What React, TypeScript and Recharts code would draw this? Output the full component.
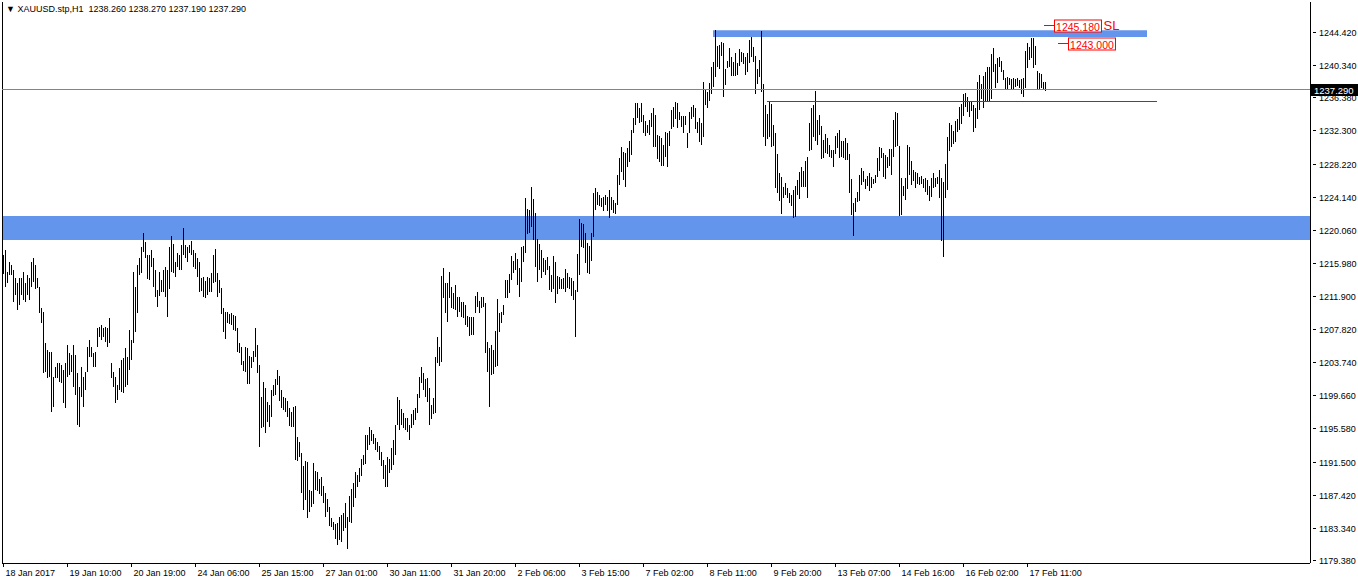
import React from "react";
import { ComposedChart, Bar, XAxis, YAxis, ReferenceLine, ReferenceArea } from "recharts";

const highs: number[] = [
  1217.0,1217.6,1214.9,1216.1,1215.7,1215.1,1214.1,1213.5,1214.1,1214.1,
  1214.9,1213.5,1214.5,1214.1,1216.1,1216.6,1215.7,1214.1,1213.0,1210.4,
  1209.9,1206.1,1205.3,1205.0,1205.0,1201.9,1203.2,1203.7,1203.7,1203.4,
  1202.8,1203.7,1205.9,1204.9,1204.6,1205.9,1204.6,1202.4,1200.7,1203.2,
  1201.9,1202.5,1205.6,1206.5,1205.6,1204.9,1205.0,1208.0,1208.1,1208.3,
  1208.0,1208.1,1208.0,1209.2,1203.7,1202.5,1201.9,1200.9,1203.0,1204.0,
  1204.3,1205.5,1204.4,1207.7,1206.5,1214.9,1213.0,1215.7,1216.6,1217.9,
  1219.7,1218.6,1217.0,1217.0,1217.6,1216.6,1215.1,1212.7,1214.9,1213.9,
  1215.1,1215.5,1215.1,1217.9,1219.3,1218.3,1216.1,1217.2,1217.0,1218.2,
  1220.3,1218.2,1217.9,1218.2,1218.7,1217.6,1217.2,1216.6,1216.1,1214.1,
  1214.2,1213.8,1214.2,1214.1,1214.7,1217.0,1217.7,1214.7,1213.9,1212.9,
  1210.4,1209.9,1209.9,1209.7,1209.8,1209.6,1209.4,1208.0,1206.1,1205.6,
  1203.9,1205.6,1205.5,1204.5,1204.4,1205.1,1208.0,1205.9,1203.4,1199.5,
  1201.3,1200.6,1198.9,1198.5,1200.3,1200.9,1201.7,1202.8,1202.0,1200.3,
  1199.5,1199.3,1199.0,1198.1,1197.6,1198.2,1198.4,1194.5,1193.9,1192.6,
  1191.0,1191.6,1191.5,1188.0,1187.9,1191.3,1190.4,1190.2,1189.3,1189.6,
  1188.5,1187.6,1186.9,1185.9,1184.6,1184.1,1183.8,1183.9,1184.7,1184.9,
  1185.2,1186.4,1184.7,1187.3,1188.1,1188.9,1190.2,1189.9,1190.7,1191.8,
  1192.3,1194.8,1194.8,1195.8,1195.4,1194.9,1194.4,1193.9,1193.4,1192.7,
  1191.7,1191.1,1192.1,1191.8,1193.2,1194.2,1196.0,1199.5,1199.1,1198.0,
  1197.5,1196.9,1196.9,1196.0,1197.4,1197.9,1198.1,1199.8,1201.9,1203.2,
  1202.4,1201.7,1201.8,1200.6,1198.5,1199.3,1204.4,1206.9,1205.6,1214.4,
  1215.4,1213.5,1213.5,1214.9,1213.0,1212.3,1213.3,1211.8,1211.8,1211.2,
  1211.2,1210.8,1209.4,1209.3,1209.3,1209.3,1211.9,1212.4,1211.3,1211.8,
  1211.8,1211.0,1206.2,1205.5,1205.9,1205.3,1207.6,1211.5,1209.8,1209.9,
  1210.8,1213.9,1213.9,1214.6,1216.8,1216.2,1217.2,1216.5,1215.4,1217.9,
  1218.1,1224.0,1222.6,1222.5,1225.3,1223.9,1222.1,1218.9,1218.3,1217.6,
  1216.6,1216.3,1216.7,1215.6,1214.5,1216.8,1216.1,1214.4,1214.2,1214.0,
  1214.1,1215.2,1214.7,1214.2,1214.1,1213.8,1212.7,1217.1,1221.4,1220.9,
  1220.8,1219.7,1218.4,1218.1,1219.7,1224.6,1225.2,1224.7,1224.3,1224.0,
  1224.1,1224.3,1224.1,1225.0,1224.1,1223.7,1223.4,1226.8,1228.9,1230.3,
  1229.6,1229.5,1230.1,1231.0,1232.4,1233.8,1235.7,1235.7,1235.1,1235.7,
  1234.2,1233.5,1233.0,1233.6,1234.4,1235.1,1234.2,1231.7,1231.6,1231.4,
  1230.5,1232.1,1232.0,1232.2,1234.8,1235.2,1235.8,1235.7,1234.6,1234.1,
  1234.1,1234.1,1232.0,1234.6,1235.2,1235.4,1235.0,1233.3,1233.8,1233.2,
  1238.3,1237.4,1237.0,1238.1,1240.1,1240.7,1244.7,1242.7,1242.8,1243.2,
  1243.1,1239.9,1240.8,1242.4,1241.3,1240.7,1241.8,1240.6,1242.3,1242.0,
  1241.8,1241.3,1241.8,1243.4,1243.8,1242.6,1241.5,1239.9,1241.0,1244.5,
  1238.0,1235.4,1234.3,1235.8,1235.6,1233.0,1232.0,1229.4,1227.0,1226.6,
  1225.3,1225.8,1225.2,1224.6,1224.3,1225.0,1225.4,1226.2,1227.2,1227.8,
  1227.3,1228.5,1229.0,1233.2,1235.0,1235.4,1237.2,1233.6,1234.2,1232.8,
  1231.1,1231.9,1231.4,1230.5,1229.9,1229.9,1231.6,1232.0,1232.4,1231.0,
  1231.0,1231.4,1230.8,1229.4,1226.3,1223.4,1224.0,1224.7,1226.8,1227.7,
  1227.3,1226.3,1226.7,1227.0,1226.6,1226.3,1226.8,1228.9,1230.3,1230.1,
  1229.5,1229.3,1229.0,1230.0,1230.0,1233.6,1234.6,1234.4,1230.4,1226.4,
  1225.5,1226.4,1230.5,1230.3,1228.5,1227.4,1227.2,1227.0,1226.6,1226.7,
  1226.3,1226.4,1226.2,1225.5,1226.4,1227.0,1226.4,1226.6,1227.4,1226.4,
  1225.9,1228.2,1231.5,1233.2,1233.0,1232.2,1233.5,1233.7,1235.2,1235.6,
  1236.8,1236.9,1236.4,1235.8,1235.9,1235.4,1235.1,1238.3,1239.1,1238.0,
  1239.0,1239.5,1240.1,1240.1,1241.7,1242.4,1240.5,1241.2,1241.3,1240.8,
  1239.7,1238.8,1238.9,1238.8,1238.6,1238.8,1238.6,1238.8,1238.5,1238.6,
  1238.8,1242.1,1243.1,1242.6,1243.7,1243.7,1242.7,1239.6,1239.4,1239.2,
  1238.3,1238.27,
];

const lows: number[] = [
  1214.7,1213.0,1213.5,1214.5,1214.5,1211.2,1212.0,1210.2,1210.8,1212.0,
  1211.4,1211.2,1212.0,1211.4,1213.0,1213.6,1212.7,1212.9,1209.8,1208.6,
  1202.4,1202.5,1201.8,1201.9,1197.6,1198.2,1201.8,1201.9,1201.3,1201.2,
  1198.7,1198.2,1201.9,1202.2,1202.5,1200.7,1199.7,1196.0,1195.8,1199.5,
  1198.2,1200.3,1202.5,1204.4,1204.4,1203.2,1203.2,1205.6,1206.9,1206.5,
  1206.9,1206.2,1205.6,1206.1,1201.9,1200.7,1198.7,1199.1,1200.3,1200.0,
  1200.0,1200.7,1200.9,1202.8,1204.0,1206.1,1207.4,1209.8,1214.5,1214.7,
  1217.3,1216.6,1214.1,1213.9,1215.5,1213.0,1211.8,1210.6,1212.0,1212.4,
  1212.4,1211.8,1209.3,1212.7,1214.9,1214.7,1214.2,1215.5,1215.1,1215.1,
  1217.0,1216.6,1216.1,1217.2,1217.0,1215.5,1215.2,1214.2,1212.4,1212.5,
  1211.7,1211.7,1212.0,1212.4,1212.4,1213.5,1213.6,1211.7,1212.3,1209.7,
  1207.4,1206.6,1208.6,1208.5,1208.3,1207.7,1207.6,1205.1,1204.9,1203.4,
  1202.7,1202.5,1201.1,1201.1,1203.0,1203.8,1204.4,1202.5,1193.3,1195.7,
  1195.8,1195.0,1196.4,1195.8,1197.0,1199.5,1199.7,1200.9,1198.9,1198.1,
  1197.9,1197.6,1197.0,1195.9,1195.8,1195.7,1191.7,1191.5,1192.0,1187.7,
  1185.6,1186.8,1184.6,1185.3,1185.9,1186.2,1188.1,1187.8,1187.4,1187.2,
  1186.4,1184.7,1185.3,1183.5,1183.5,1183.1,1181.9,1181.2,1181.9,1181.6,
  1183.0,1183.3,1180.8,1184.1,1183.9,1186.0,1187.0,1188.4,1189.0,1189.7,
  1191.1,1191.2,1192.9,1193.6,1194.1,1193.7,1192.9,1192.7,1191.7,1191.0,
  1189.3,1188.4,1188.4,1190.1,1190.5,1191.1,1192.3,1196.0,1195.4,1196.0,
  1195.7,1195.4,1195.2,1194.2,1195.7,1196.0,1196.6,1197.4,1199.3,1201.2,
  1200.3,1199.5,1198.9,1196.0,1196.8,1197.3,1197.5,1203.7,1203.2,1203.8,
  1211.7,1209.8,1208.7,1211.7,1210.4,1210.3,1210.2,1209.3,1209.9,1209.3,
  1209.2,1208.3,1208.1,1206.9,1207.1,1207.1,1209.8,1210.6,1209.8,1210.4,
  1210.6,1204.9,1202.5,1198.2,1202.2,1202.4,1203.2,1203.3,1207.5,1208.5,
  1209.6,1211.7,1211.7,1212.3,1213.9,1214.7,1215.1,1213.3,1211.8,1213.6,
  1216.1,1217.2,1219.5,1219.7,1220.4,1218.9,1215.4,1213.6,1215.1,1214.1,
  1214.9,1214.5,1215.1,1212.7,1212.4,1212.7,1211.0,1212.2,1212.7,1212.8,
  1212.7,1212.4,1212.8,1212.7,1211.9,1211.4,1206.9,1212.4,1214.5,1217.9,
  1217.8,1216.0,1214.7,1214.7,1216.3,1219.2,1222.5,1223.1,1222.9,1222.9,
  1222.4,1223.1,1222.4,1221.6,1222.5,1222.1,1222.1,1223.1,1225.6,1227.2,
  1226.1,1225.3,1227.7,1228.4,1229.3,1232.0,1233.0,1233.9,1233.2,1233.3,
  1232.0,1231.7,1232.0,1231.7,1232.7,1230.3,1230.3,1228.7,1228.4,1228.0,
  1227.9,1229.0,1227.8,1230.4,1232.4,1232.7,1233.7,1232.6,1233.6,1232.7,
  1232.0,1233.0,1230.1,1232.0,1233.7,1233.9,1232.4,1232.0,1230.9,1230.5,
  1231.5,1235.4,1235.0,1235.9,1236.8,1237.6,1238.9,1240.1,1239.9,1241.5,
  1236.5,1237.9,1239.9,1240.1,1239.0,1239.0,1239.0,1239.1,1240.2,1240.8,
  1240.4,1239.1,1239.5,1240.6,1241.3,1240.8,1236.8,1238.1,1238.9,1237.0,
  1231.5,1230.4,1231.2,1231.5,1230.3,1230.4,1225.2,1224.6,1223.6,1222.1,
  1223.9,1224.3,1224.0,1223.4,1223.0,1221.6,1221.6,1224.3,1223.9,1225.3,
  1225.3,1225.3,1224.0,1229.8,1229.8,1231.5,1231.0,1230.5,1231.7,1228.7,
  1228.9,1229.5,1229.4,1229.0,1228.9,1227.8,1229.4,1230.1,1229.0,1229.0,
  1228.9,1228.7,1228.7,1224.6,1221.9,1219.3,1222.3,1223.5,1223.6,1225.6,
  1226.0,1225.1,1225.5,1224.8,1225.2,1225.7,1225.8,1226.6,1227.4,1228.9,
  1226.6,1226.3,1227.7,1227.9,1226.8,1229.0,1230.3,1230.3,1221.8,1221.9,
  1224.3,1223.7,1225.1,1226.8,1225.6,1226.0,1225.2,1225.6,1225.6,1225.7,
  1225.2,1224.7,1224.3,1223.6,1224.1,1225.2,1225.3,1225.7,1224.0,1218.6,
  1216.7,1224.0,1225.0,1229.8,1230.3,1230.6,1230.9,1232.1,1232.4,1233.1,
  1234.1,1235.2,1234.6,1234.0,1234.7,1232.1,1232.6,1233.7,1234.8,1236.2,
  1235.1,1235.8,1235.8,1235.8,1236.2,1239.4,1237.6,1238.1,1240.1,1239.5,
  1238.5,1237.5,1237.4,1237.9,1237.4,1237.5,1237.6,1237.8,1237.5,1236.7,
  1236.5,1237.5,1240.0,1241.0,1241.2,1240.0,1240.4,1237.2,1237.3,1237.5,
  1237.3,1237.19,
];

const timeLabels: string[] = [
  "18 Jan 2017","19 Jan 10:00","20 Jan 19:00","24 Jan 06:00","25 Jan 15:00",
  "27 Jan 01:00","30 Jan 11:00","31 Jan 20:00","2 Feb 06:00","3 Feb 15:00",
  "7 Feb 02:00","8 Feb 11:00","9 Feb 20:00","13 Feb 07:00","14 Feb 16:00",
  "16 Feb 02:00","17 Feb 11:00",
];
const timeTickIdx: number[] = timeLabels.map((_, k) => k * 32);

const priceTicks: number[] = [
  1244.42,1240.34,1236.38,1232.3,1228.22,1224.14,1220.06,1215.98,1211.9,
  1207.82,1203.74,1199.66,1195.58,1191.5,1187.42,1183.34,1179.38,
];

const title = "\u25BC XAUUSD.stp,H1  1238.260 1238.270 1237.190 1237.290";
const lastPrice = 1237.29;
const slPrice = 1245.18;
const tpPrice = 1243.0;
const supportZone: [number, number] = [1218.8, 1221.75];
const topZone = { x1: 354.75, x2: 571.75, y1: 1243.8, y2: 1244.65 };
const neckLine = { x1: 381.75, x2: 576.75, y: 1235.92 };

const data = highs.map((h, i) => ({ i, range: [lows[i], h] as [number, number] }));

const FONT = "'Liberation Sans', Arial, sans-serif";

const Stick = (props: any) => {
  const { x, y, width, height } = props;
  if (x == null || y == null || isNaN(x) || isNaN(y)) return null;
  const cx = Math.floor(x + width / 2);
  const top = Math.round(Math.min(y, y + height));
  const h = Math.max(1, Math.round(Math.abs(height)));
  return <rect x={cx} y={top} width={1} height={h} fill="#000" shapeRendering="crispEdges" />;
};

const TimeTick = (props: any) => {
  const { x, y, payload } = props;
  const k = timeTickIdx.indexOf(payload.value);
  const xx = Math.floor(x) + 0.5;
  return (
    <g>
      <line x1={xx} x2={xx} y1={y - 4} y2={y} stroke="#000" shapeRendering="crispEdges" />
      <text x={xx + 2} y={y + 9} fontSize={9} fontFamily={FONT} fill="#000" textAnchor="start">
        {k >= 0 ? timeLabels[k] : ""}
      </text>
    </g>
  );
};

const PriceTick = (props: any) => {
  const { x, y, payload } = props;
  const yy = Math.round(y) + 0.5;
  return (
    <g>
      <line x1={x - 3} x2={x} y1={yy} y2={yy} stroke="#000" shapeRendering="crispEdges" />
      <text x={x + 3} y={yy + 3.5} fontSize={9} fontFamily={FONT} fill="#000" textAnchor="start">
        {Number(payload.value).toFixed(3)}
      </text>
    </g>
  );
};

const LastTag = (props: any) => {
  const vb = props.viewBox || {};
  const x = (vb.x || 0) + (vb.width || 0) + 1;
  const y = Math.round(vb.y || 0);
  return (
    <g>
      <rect x={x} y={y - 6} width={48} height={12} fill="#000" />
      <text x={x + 3} y={y + 4} fontSize={9.5} fontFamily={FONT} fill="#fff">
        {lastPrice.toFixed(3)}
      </text>
    </g>
  );
};

const makeBoxTag = (value: number, extra?: string) => (props: any) => {
  const vb = props.viewBox || {};
  const x = Math.round((vb.x || 0) + (vb.width || 0)) + 0.5;
  const y = Math.round(vb.y || 0);
  return (
    <g>
      <rect x={x} y={y - 6} width={47} height={12} fill="#fff" stroke="#ff0000" strokeWidth={1} />
      <text x={x + 23.5} y={y + 4.5} fontSize={10.5} fontFamily={FONT} fill="#ff0000" textAnchor="middle">
        {value.toFixed(3)}
      </text>
      {extra ? (
        <text x={x + 49} y={y + 4} fontSize={13} fontFamily={FONT} fill="#ff0000" textAnchor="start">
          {extra}
        </text>
      ) : null}
    </g>
  );
};

export default function App() {
  return (
    <div style={{ position: "absolute", left: 0, top: 0, width: 1358, height: 584, background: "#fff" }}>
      <ComposedChart
        width={1358}
        height={584}
        data={data}
        margin={{ top: 2, right: 0, bottom: 0, left: 2 }}
      >
        <XAxis
          type="number"
          dataKey="i"
          domain={[-0.75, 653.25]}
          allowDataOverflow
          ticks={timeTickIdx}
          interval={0}
          height={21}
          tickSize={4}
          tickMargin={0}
          tickLine={false}
          axisLine={{ stroke: "#000", shapeRendering: "crispEdges" }}
          tick={<TimeTick />}
        />
        <YAxis
          orientation="right"
          type="number"
          domain={[1179.01, 1248.115]}
          allowDataOverflow
          ticks={priceTicks}
          interval={0}
          width={48}
          tickSize={3}
          tickMargin={3}
          tickLine={false}
          axisLine={{ stroke: "#000", shapeRendering: "crispEdges" }}
          tick={<PriceTick />}
        />
        <ReferenceArea
          y1={supportZone[0]}
          y2={supportZone[1]}
          fill="#6495ED"
          fillOpacity={1}
          stroke="none"
          ifOverflow="hidden"
        />
        <ReferenceArea
          x1={topZone.x1}
          x2={topZone.x2}
          y1={topZone.y1}
          y2={topZone.y2}
          fill="#6495ED"
          fillOpacity={1}
          stroke="none"
        />
        <ReferenceLine x={-0.5} stroke="#000" shapeRendering="crispEdges" />
        <ReferenceLine y={lastPrice} stroke="#778899" shapeRendering="crispEdges" label={LastTag} />
        <ReferenceLine
          segment={[{ x: neckLine.x1, y: neckLine.y }, { x: neckLine.x2, y: neckLine.y }]}
          stroke="#ff0000"
          shapeRendering="crispEdges"
        />
        <ReferenceLine
          segment={[{ x: 520.25, y: slPrice }, { x: 525.25, y: slPrice }]}
          stroke="#ff0000"
          shapeRendering="crispEdges"
          label={makeBoxTag(slPrice, "SL")}
        />
        <ReferenceLine
          segment={[{ x: 527.25, y: tpPrice }, { x: 532.25, y: tpPrice }]}
          stroke="#ff0000"
          shapeRendering="crispEdges"
          label={makeBoxTag(tpPrice)}
        />
        <Bar dataKey="range" barSize={1} isAnimationActive={false} shape={Stick} />
      </ComposedChart>
      <div
        style={{
          position: "absolute",
          left: 6,
          top: 4,
          fontFamily: FONT,
          fontSize: 9,
          lineHeight: "11px",
          whiteSpace: "pre",
          color: "#000",
        }}
      >
        {title}
      </div>
    </div>
  );
}
